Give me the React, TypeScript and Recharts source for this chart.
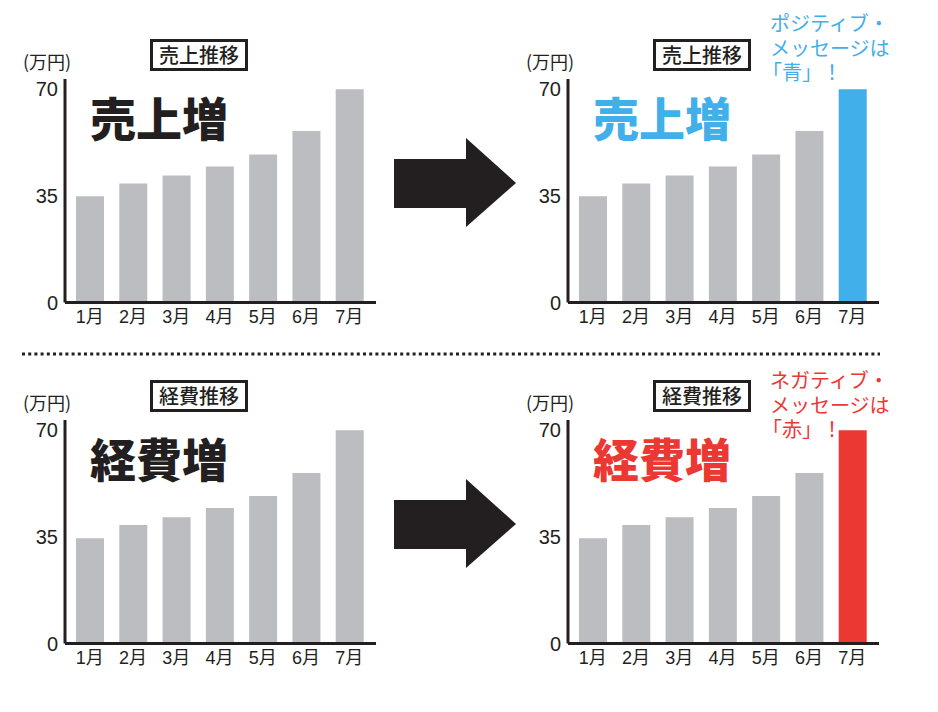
import React from 'react';
import { BarChart, Bar, XAxis, YAxis, Cell } from 'recharts';

const months = ['1月', '2月', '3月', '4月', '5月', '6月', '7月'];
const salesValues = [34.9, 39.1, 41.7, 44.7, 48.6, 56.3, 70];
const expenseValues = [34.6, 38.9, 41.5, 44.5, 48.4, 56.0, 70];
const yTicks = [0, 35, 70];
const yMax = 73.4;

const unitLabel = '(万円)';
const salesTitle = '売上推移';
const expenseTitle = '経費推移';
const salesHeadline = '売上増';
const expenseHeadline = '経費増';
const positiveNote = ['ポジティブ・', 'メッセージは', '「青」！'];
const negativeNote = ['ネガティブ・', 'メッセージは', '「赤」！'];

const INK = '#231f20';
const GRAY = '#bcbdc0';
const BLUE = '#41afea';
const RED = '#ec3833';
const JP = '"Noto Sans CJK JP", sans-serif';
const NUM = '"Liberation Sans", "Noto Sans CJK JP", sans-serif';

type PanelProps = {
  left: number;
  top: number;
  values: number[];
  highlight: string;
  title: string;
  headline: string;
  headlineColor: string;
  note?: string[];
  noteColor?: string;
  noteTop?: number;
};

function Panel({ left, top, values, highlight, title, headline, headlineColor, note, noteColor, noteTop }: PanelProps) {
  const rows = months.map((m, i) => ({ month: m, value: values[i] }));
  return (
    <div style={{ position: 'absolute', left, top, width: 430, height: 340 }}>
      <div style={{ position: 'absolute', left: 0, top: 0 }}>
        <BarChart width={400} height={340} data={rows} margin={{ top: 79, right: 24, bottom: 7.5, left: 0 }} barSize={28}>
          <XAxis
            dataKey="month"
            interval={0}
            axisLine={{ stroke: INK, strokeWidth: 3 }}
            tickLine={false}
            tickSize={0}
            tickMargin={8}
            height={30}
            padding={{ left: 3, right: 5 }}
            tick={{ fill: INK, fontSize: 18, fontFamily: NUM }}
          />
          <YAxis
            domain={[0, yMax]}
            ticks={yTicks}
            width={65}
            axisLine={{ stroke: INK, strokeWidth: 3 }}
            tickLine={false}
            tickSize={0}
            tickMargin={7}
            tick={{ fill: INK, fontSize: 20, fontFamily: NUM }}
          />
          <Bar dataKey="value" isAnimationActive={false}>
            {rows.map((r, i) => (
              <Cell key={r.month} fill={i === rows.length - 1 ? highlight : GRAY} />
            ))}
          </Bar>
        </BarChart>
      </div>
      <div style={{ position: 'absolute', left: 23, top: 51, fontFamily: JP, fontSize: 18, lineHeight: '20px', color: INK }}>
        {unitLabel}
      </div>
      <div
        style={{
          position: 'absolute',
          left: 150,
          top: 39,
          width: 98,
          height: 32,
          boxSizing: 'border-box',
          border: `3px solid ${INK}`,
          fontFamily: JP,
          fontSize: 20,
          fontWeight: 500,
          lineHeight: '26px',
          textAlign: 'center',
          color: INK,
        }}
      >
        {title}
      </div>
      <div
        style={{
          position: 'absolute',
          left: 90,
          top: 93,
          fontFamily: JP,
          fontSize: 46,
          fontWeight: 900,
          lineHeight: '46px',
          color: headlineColor,
          whiteSpace: 'nowrap',
        }}
      >
        {headline}
      </div>
      {note && (
        <div
          style={{
            position: 'absolute',
            left: 267,
            top: noteTop,
            fontFamily: JP,
            fontSize: 20,
            lineHeight: '24.5px',
            color: noteColor,
            whiteSpace: 'nowrap',
          }}
        >
          {note.map((l, i) => (
            <div key={i} style={{ marginLeft: i === 2 ? -8 : 0, height: 24.5 }}>{l}</div>
          ))}
        </div>
      )}
    </div>
  );
}

function Arrow({ top }: { top: number }) {
  return (
    <svg style={{ position: 'absolute', left: 380, top, overflow: 'visible' }} width={150} height={100}>
      <polygon points="14,21 86,21 86,0 136,45 86,89 86,70 14,70" fill={INK} />
    </svg>
  );
}

export default function App() {
  return (
    <div style={{ position: 'absolute', left: 0, top: 0, width: 938, height: 712, background: '#fff', overflow: 'hidden' }}>
      <Panel left={0} top={0} values={salesValues} highlight={GRAY} title={salesTitle} headline={salesHeadline} headlineColor={INK} />
      <Panel
        left={503}
        top={0}
        values={salesValues}
        highlight={BLUE}
        title={salesTitle}
        headline={salesHeadline}
        headlineColor={BLUE}
        note={positiveNote}
        noteColor={BLUE}
        noteTop={11}
      />
      <Panel left={0} top={341} values={expenseValues} highlight={GRAY} title={expenseTitle} headline={expenseHeadline} headlineColor={INK} />
      <Panel
        left={503}
        top={341}
        values={expenseValues}
        highlight={RED}
        title={expenseTitle}
        headline={expenseHeadline}
        headlineColor={RED}
        note={negativeNote}
        noteColor={RED}
        noteTop={27}
      />
      <Arrow top={138} />
      <Arrow top={479} />
      <svg style={{ position: 'absolute', left: 0, top: 0 }} width={938} height={712} pointerEvents="none">
        <line x1={22} y1={354} x2={880} y2={354} stroke={INK} strokeWidth={3} strokeDasharray="3 3.2" />
      </svg>
    </div>
  );
}
